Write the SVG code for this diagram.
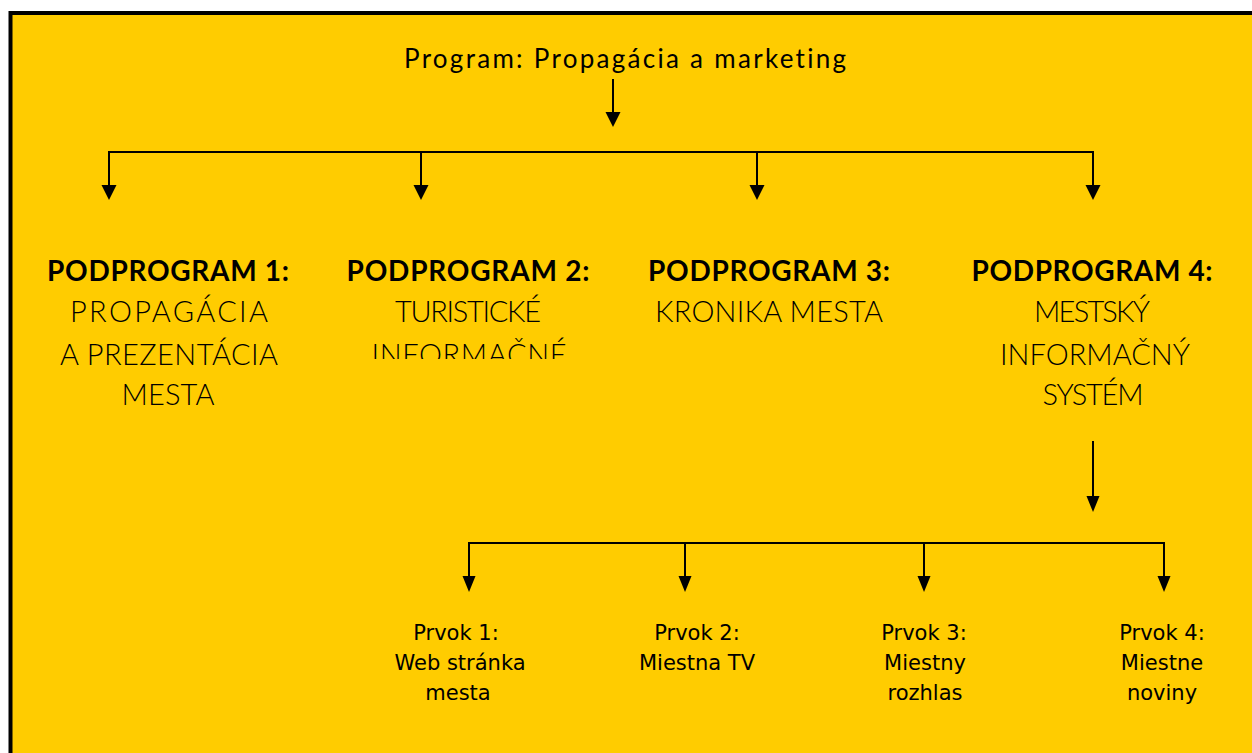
<svg xmlns="http://www.w3.org/2000/svg" width="1252" height="753" viewBox="0 0 1252 753">
  <style>
    .frame { fill: #FFCC00; stroke: #000; stroke-width: 4; }
    .conn { fill: none; stroke: #000; stroke-width: 2; }
    text { font-variant-ligatures: none; }
    .title { font-family: Lato, "Liberation Sans", sans-serif; font-weight: 400; font-size: 26px; fill: #000; }
    .head { font-family: Lato, "Liberation Sans", sans-serif; font-weight: 700; font-size: 28px; fill: #000; text-anchor: middle; }
    .sub { font-family: Lato, "Liberation Sans", sans-serif; font-weight: 300; font-size: 29px; fill: #000; text-anchor: middle; }
    .el { font-family: "DejaVu Sans", Verdana, sans-serif; font-size: 21px; fill: #000; text-anchor: middle; }
  </style>
  <defs>
    <marker id="arr" markerUnits="userSpaceOnUse" markerWidth="16" markerHeight="16" refX="0" refY="7.5" orient="auto">
      <path d="M0,0 L15,7.5 L0,15 Z" fill="#000"/>
    </marker>
    <marker id="arr2" markerUnits="userSpaceOnUse" markerWidth="16" markerHeight="14" refX="0" refY="6.5" orient="auto">
      <path d="M0,0 L16,6.5 L0,13 Z" fill="#000"/>
    </marker>
    <clipPath id="clipInf">
      <rect x="300" y="290" width="300" height="69"/>
    </clipPath>
  </defs>

  <rect class="frame" x="10.5" y="13" width="1260" height="760"/>

  <g id="connectors">
    <line class="conn" x1="613" y1="79" x2="613" y2="112" marker-end="url(#arr)"/>
    <path class="conn" d="M109 185 V152 H1093 V185"/>
    <line class="conn" x1="109" y1="170" x2="109" y2="185" marker-end="url(#arr)"/>
    <line class="conn" x1="421" y1="152" x2="421" y2="185" marker-end="url(#arr)"/>
    <line class="conn" x1="757" y1="152" x2="757" y2="185" marker-end="url(#arr)"/>
    <line class="conn" x1="1093" y1="170" x2="1093" y2="185" marker-end="url(#arr)"/>

    <line class="conn" x1="1093" y1="441" x2="1093" y2="496" marker-end="url(#arr2)"/>
    <path class="conn" d="M469 576 V543 H1164 V576"/>
    <line class="conn" x1="469" y1="560" x2="469" y2="576" marker-end="url(#arr2)"/>
    <line class="conn" x1="685" y1="543" x2="685" y2="576" marker-end="url(#arr2)"/>
    <line class="conn" x1="924" y1="543" x2="924" y2="576" marker-end="url(#arr2)"/>
    <line class="conn" x1="1164" y1="560" x2="1164" y2="576" marker-end="url(#arr2)"/>
  </g>

  <g id="program">
    <text class="title" x="404" y="68" textLength="442">Program: Propagácia a marketing</text>
  </g>

  <g id="podprogram1">
    <text class="head" x="168" y="281" textLength="242">PODPROGRAM 1:</text>
    <text class="sub" x="169" y="322" textLength="198">PROPAGÁCIA</text>
    <text class="sub" x="169" y="365" textLength="218">A PREZENTÁCIA</text>
    <text class="sub" x="168" y="405" textLength="93">MESTA</text>
  </g>

  <g id="podprogram2">
    <text class="head" x="468" y="281" textLength="243">PODPROGRAM 2:</text>
    <text class="sub" x="468" y="322" textLength="146">TURISTICKÉ</text>
    <text class="sub" x="469" y="365" textLength="195" clip-path="url(#clipInf)">INFORMAČNÉ</text>
  </g>

  <g id="podprogram3">
    <text class="head" x="769" y="281" textLength="242">PODPROGRAM 3:</text>
    <text class="sub" x="769" y="322" textLength="228">KRONIKA MESTA</text>
  </g>

  <g id="podprogram4">
    <text class="head" x="1092" y="281" textLength="241">PODPROGRAM 4:</text>
    <text class="sub" x="1092" y="322" textLength="116">MESTSKÝ</text>
    <text class="sub" x="1095" y="365" textLength="190">INFORMAČNÝ</text>
    <text class="sub" x="1093" y="405" textLength="101">SYSTÉM</text>
  </g>

  <g id="prvok1">
    <text class="el" x="456" y="640">Prvok 1:</text>
    <text class="el" x="460" y="670">Web stránka</text>
    <text class="el" x="458" y="700">mesta</text>
  </g>
  <g id="prvok2">
    <text class="el" x="697" y="640">Prvok 2:</text>
    <text class="el" x="697" y="670">Miestna TV</text>
  </g>
  <g id="prvok3">
    <text class="el" x="924" y="640">Prvok 3:</text>
    <text class="el" x="925" y="670">Miestny</text>
    <text class="el" x="925" y="700">rozhlas</text>
  </g>
  <g id="prvok4">
    <text class="el" x="1162" y="640">Prvok 4:</text>
    <text class="el" x="1162" y="670">Miestne</text>
    <text class="el" x="1162" y="700">noviny</text>
  </g>
</svg>
